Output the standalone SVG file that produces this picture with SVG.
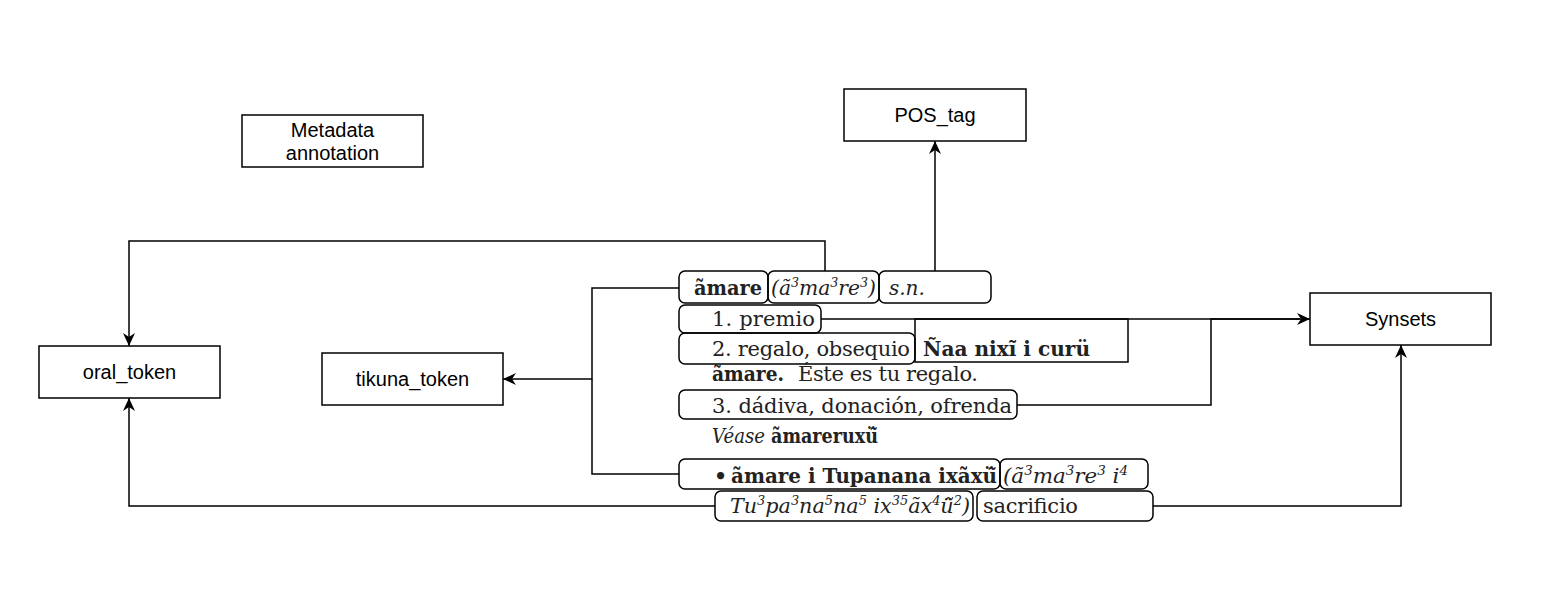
<svg xmlns="http://www.w3.org/2000/svg" width="1563" height="613" viewBox="0 0 1563 613">
<style>
.node{fill:#fff;stroke:#000;stroke-width:1.5}
.nt{font-family:"Liberation Sans",Arial,sans-serif;font-size:20px;fill:#000;text-anchor:middle;dominant-baseline:central}
.edge{fill:none;stroke:#000;stroke-width:1.5}
.tb{fill:none;stroke:#000;stroke-width:1.5}
.dt{font-family:"DejaVu Serif",serif;font-size:21px;fill:#222}
.b{font-weight:bold;font-size:20.5px}
.i{font-style:italic;font-size:20px}
.sup{font-size:12.5px}
</style>
<defs>
<marker id="arr" markerWidth="14" markerHeight="12" refX="13" refY="6" orient="auto" markerUnits="userSpaceOnUse">
<path d="M0,0 L13,6 L0,12 L4,6 Z" fill="#000"/>
</marker>
</defs>
<rect width="1563" height="613" fill="#fff"/>
<g id="connectors">
<path class="edge" d="M825,271 V241 H129 V346" marker-end="url(#arr)"/>
<path class="edge" d="M935,271 V141" marker-end="url(#arr)"/>
<path class="edge" d="M679,288 H592 V379 H503" marker-end="url(#arr)"/>
<path class="edge" d="M679,474 H592 V379"/>
<path class="edge" d="M821,319 H1310" marker-end="url(#arr)"/>
<path class="edge" d="M1017,405 H1211 V319 H1300"/>
<path class="edge" d="M715,506 H129 V398" marker-end="url(#arr)"/>
<path class="edge" d="M1153,506 H1401 V345" marker-end="url(#arr)"/>
</g>
<g id="metadata">
<rect class="node" x="242" y="115" width="181" height="52"/>
<text class="nt" x="332.5" y="129.5">Metadata</text>
<text class="nt" x="332.5" y="152.5">annotation</text>
</g>
<g id="pos_tag">
<rect class="node" x="844" y="89" width="182" height="52"/>
<text class="nt" x="935" y="115">POS_tag</text>
</g>
<g id="oral_token">
<rect class="node" x="39" y="346" width="181" height="52"/>
<text class="nt" x="129.5" y="372">oral_token</text>
</g>
<g id="tikuna_token">
<rect class="node" x="322" y="353" width="181" height="52"/>
<text class="nt" x="412.5" y="379">tikuna_token</text>
</g>
<g id="synsets">
<rect class="node" x="1310" y="293" width="181" height="52"/>
<text class="nt" x="1400.5" y="319">Synsets</text>
</g>
<g id="entry">
<rect class="tb" x="679" y="271" width="89" height="32" rx="6"/>
<rect class="tb" x="768" y="271" width="111" height="32" rx="6"/>
<rect class="tb" x="879" y="271" width="112" height="32" rx="6"/>
<rect class="tb" x="679" y="305" width="142" height="28" rx="6"/>
<rect class="tb" x="679" y="333" width="236" height="31" rx="6"/>
<rect class="tb" x="915" y="319" width="213" height="43"/>
<rect class="tb" x="679" y="390" width="338" height="29" rx="6"/>
<rect class="tb" x="679" y="459" width="321" height="30" rx="6"/>
<rect class="tb" x="1000" y="459" width="148" height="30" rx="6"/>
<rect class="tb" x="715" y="491" width="258" height="30" rx="6"/>
<rect class="tb" x="977" y="491" width="176" height="30" rx="6"/>
<text class="dt b" x="694" y="295" textLength="68" lengthAdjust="spacingAndGlyphs">ãmare</text>
<text class="dt i" x="771" y="295" textLength="105" lengthAdjust="spacingAndGlyphs">(ã<tspan class="sup" dy="-8">3</tspan><tspan dy="8">ma</tspan><tspan class="sup" dy="-8">3</tspan><tspan dy="8">re</tspan><tspan class="sup" dy="-8">3</tspan><tspan dy="8">)</tspan></text>
<text class="dt i" x="889" y="295">s.n.</text>
<text class="dt" x="712" y="326" textLength="103">1. premio</text>
<text class="dt" x="712" y="356" textLength="198">2. regalo, obsequio</text>
<text class="dt b" x="923" y="356" textLength="167" lengthAdjust="spacingAndGlyphs">Ñaa nixĩ i curü</text>
<text class="dt b" x="712" y="381" textLength="72" lengthAdjust="spacingAndGlyphs">ãmare.</text>
<text class="dt" x="798" y="381" textLength="180">Éste es tu regalo.</text>
<text class="dt" x="712" y="413" textLength="300">3. dádiva, donación, ofrenda</text>
<text class="dt i" x="712" y="443" textLength="53" lengthAdjust="spacingAndGlyphs">Véase</text>
<text class="dt b" x="771" y="443" textLength="107" lengthAdjust="spacingAndGlyphs">ãmareruxü̃</text>
<text class="dt b" x="714" y="483">•</text>
<text class="dt b" x="731" y="483" textLength="266" lengthAdjust="spacingAndGlyphs">ãmare i Tupanana ixãxü̃</text>
<text class="dt i" x="1003" y="483" textLength="125" lengthAdjust="spacingAndGlyphs">(ã<tspan class="sup" dy="-8">3</tspan><tspan dy="8">ma</tspan><tspan class="sup" dy="-8">3</tspan><tspan dy="8">re</tspan><tspan class="sup" dy="-8">3</tspan><tspan dy="8"> i</tspan><tspan class="sup" dy="-8">4</tspan></text>
<text class="dt i" x="730" y="513" textLength="240" lengthAdjust="spacingAndGlyphs">Tu<tspan class="sup" dy="-8">3</tspan><tspan dy="8">pa</tspan><tspan class="sup" dy="-8">3</tspan><tspan dy="8">na</tspan><tspan class="sup" dy="-8">5</tspan><tspan dy="8">na</tspan><tspan class="sup" dy="-8">5</tspan><tspan dy="8"> ix</tspan><tspan class="sup" dy="-8">35</tspan><tspan dy="8">ãx</tspan><tspan class="sup" dy="-8">4</tspan><tspan dy="8">ü̃</tspan><tspan class="sup" dy="-8">2</tspan><tspan dy="8">)</tspan></text>
<text class="dt" x="983" y="513" textLength="95">sacrificio</text>
</g>
</svg>
